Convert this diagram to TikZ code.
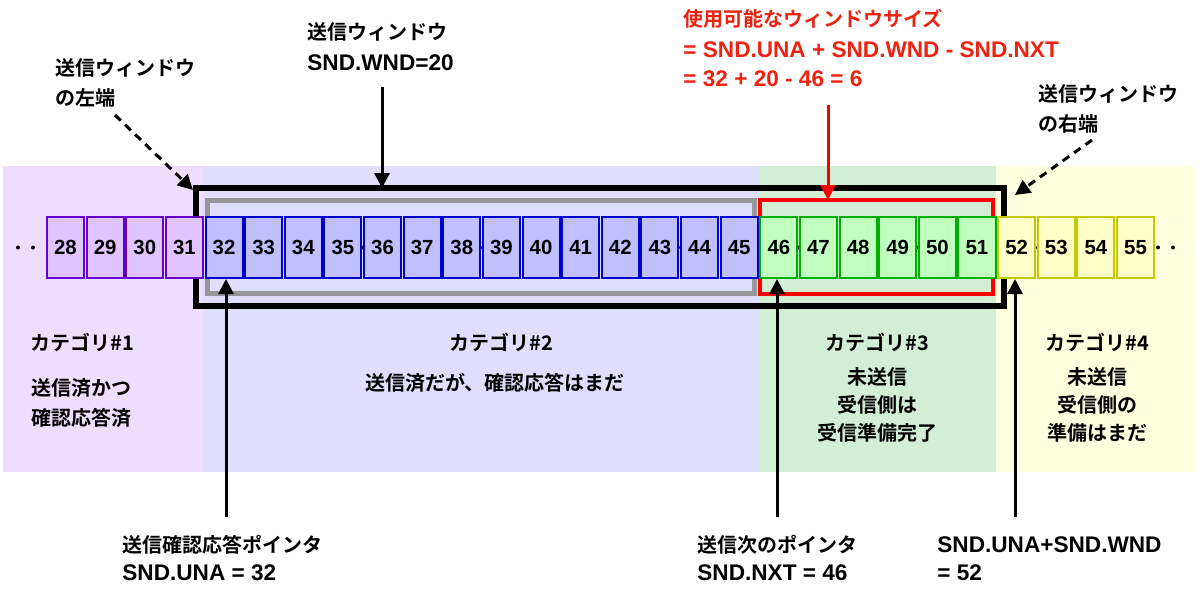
\documentclass[tikz,border=0pt]{standalone}
\usepackage{fontspec}
\setmainfont{Liberation Sans}
\newfontfamily\jp{Noto Sans CJK JP}[UprightFont={* Bold}]
\newfontfamily\lt{Liberation Sans}[UprightFont={* Bold}]
\usetikzlibrary{arrows.meta}
\definecolor{bandA}{RGB}{238,222,253}
\definecolor{bandB}{RGB}{223,223,253}
\definecolor{bandC}{RGB}{210,238,212}
\definecolor{bandD}{RGB}{255,255,223}
\definecolor{cellAf}{RGB}{224,196,255}
\definecolor{cellAd}{RGB}{102,0,204}
\definecolor{cellBf}{RGB}{192,192,255}
\definecolor{cellBd}{RGB}{0,0,204}
\definecolor{cellCf}{RGB}{192,255,192}
\definecolor{cellCd}{RGB}{0,176,0}
\definecolor{cellDf}{RGB}{255,255,200}
\definecolor{cellDd}{RGB}{200,200,0}
\definecolor{txtred}{RGB}{238,34,17}
\definecolor{winred}{RGB}{250,0,0}
\definecolor{wingray}{RGB}{150,150,150}
\begin{document}
\begin{tikzpicture}[x=0.5pt,y=-0.5pt,
  cell/.style={draw,line width=1pt,minimum width=18.5pt,minimum height=30.5pt,inner sep=0pt,
    font=\lt\fontsize{10.2}{12}\selectfont},
  catA/.style={cell,fill=cellAf,draw=cellAd},
  catB/.style={cell,fill=cellBf,draw=cellBd},
  catC/.style={cell,fill=cellCf,draw=cellCd},
  catD/.style={cell,fill=cellDf,draw=cellDd},
  jl/.style={inner sep=0pt,anchor=west,font=\jp\fontsize{10}{12}\selectfont},
  ll/.style={inner sep=0pt,anchor=west,font=\lt\fontsize{11.3}{13}\selectfont},
  jc/.style={inner sep=0pt,anchor=center,font=\jp\fontsize{10}{12}\selectfont},
  arr/.style={line width=1.5pt,-{Triangle[length=7.5pt,width=7.5pt]}},
  darr/.style={arr,dash pattern=on 4pt off 3pt},
  box/.style={draw,inner sep=0pt,outer sep=0pt}
]
\useasboundingbox (0,0) rectangle (1200,589);
\fill[white] (0,0) rectangle (1200,589);
% category bands
\fill[bandA] (3,166) rectangle (203,472);
\fill[bandB] (203,166) rectangle (759,472);
\fill[bandC] (759,166) rectangle (996,472);
\fill[bandD] (996,166) rectangle (1195,472);
% dotted sequence line
\draw[line width=2pt,line cap=round,dash pattern=on 0pt off 7.5pt] (18,247.5) -- (1188,247.5);
% windows
\node[box,line width=3pt,minimum width=404pt,minimum height=59pt] (win) at (600,247) {};
\node[box,draw=wingray,line width=2.5pt,minimum width=273.5pt,minimum height=46.5pt] (sent) at (480.5,246.5) {};
\node[box,draw=winred,line width=2pt,minimum width=116.5pt,minimum height=47pt] (usable) at (876.5,247) {};
% cells
\foreach \n in {28,...,31}{\pgfmathsetmacro\cx{47+(\n-28)*39.63+18.5}\node[catA] (c\n) at (\cx,247.5) {\n};}
\foreach \n in {32,...,45}{\pgfmathsetmacro\cx{47+(\n-28)*39.63+18.5}\node[catB] (c\n) at (\cx,247.5) {\n};}
\foreach \n in {46,...,51}{\pgfmathsetmacro\cx{47+(\n-28)*39.63+18.5}\node[catC] (c\n) at (\cx,247.5) {\n};}
\foreach \n in {52,...,55}{\pgfmathsetmacro\cx{47+(\n-28)*39.63+18.5}\node[catD] (c\n) at (\cx,247.5) {\n};}
% top labels
\node[jl] (lefttxtA) at (55,68) {送信ウィンドウ};
\node[jl] (lefttxtB) at (55,98) {の左端};
\node[jl] (wndtxtA) at (307,32) {送信ウィンドウ};
\node[ll] (wndtxtB) at (307,63) {SND.WND=20};
\node[jl,text=txtred] (redA) at (683,19) {使用可能なウィンドウサイズ};
\node[ll,text=txtred] (redB) at (683,50) {= SND.UNA + SND.WND - SND.NXT};
\node[ll,text=txtred] (redC) at (683,79) {= 32 + 20 - 46 = 6};
\node[jl] (righttxtA) at (1038,94) {送信ウィンドウ};
\node[jl] (righttxtB) at (1038,124) {の右端};
% top arrows
\coordinate (ldS) at (115,115);
\coordinate (ldE) at (193,190);
\draw[darr] (ldS) -- (ldE);
\coordinate (rdS) at (1092,140);
\coordinate (rdE) at (1015,195);
\draw[darr] (rdS) -- (rdE);
\coordinate (wndS) at (382,87);
\draw[arr] (wndS) -- (wndS |- win.north);
\coordinate (redS) at (828,105);
\draw[arr,draw=winred,fill=winred] (redS) -- (redS |- usable.north);
% category texts
\node[jc] (k1) at (82,342) {カテゴリ\#1};
\node[jc] (k1a) at (82,388) {送信済かつ};
\node[jc] (k1b) at (82,418) {確認応答済};
\node[jc] (k2) at (501,342) {カテゴリ\#2};
\node[jc] (k2a) at (495,383) {送信済だが、確認応答はまだ};
\node[jc] (k3) at (877,342) {カテゴリ\#3};
\node[jc] (k3a) at (877,377) {未送信};
\node[jc] (k3b) at (877,405) {受信側は};
\node[jc] (k3c) at (877,433) {受信準備完了};
\node[jc] (k4) at (1097,342) {カテゴリ\#4};
\node[jc] (k4a) at (1097,377) {未送信};
\node[jc] (k4b) at (1097,405) {受信側の};
\node[jc] (k4c) at (1097,433) {準備はまだ};
% bottom arrows
\coordinate (unaS) at (226,517);
\draw[arr] (unaS) -- (unaS |- c32.south);
\coordinate (nxtS) at (777,517);
\draw[arr] (nxtS) -- (nxtS |- c46.south);
\coordinate (endS) at (1015,517);
\draw[arr] (endS) -- (endS |- c52.south);
% bottom labels
\node[jl] (unaA) at (122,545) {送信確認応答ポインタ};
\node[ll] (unaB) at (122,573) {SND.UNA = 32};
\node[jl] (nxtA) at (697,545) {送信次のポインタ};
\node[ll] (nxtB) at (697,573) {SND.NXT = 46};
\node[ll] (endA) at (937,545) {SND.UNA+SND.WND};
\node[ll] (endB) at (937,573) {= 52};
\end{tikzpicture}
\end{document}
